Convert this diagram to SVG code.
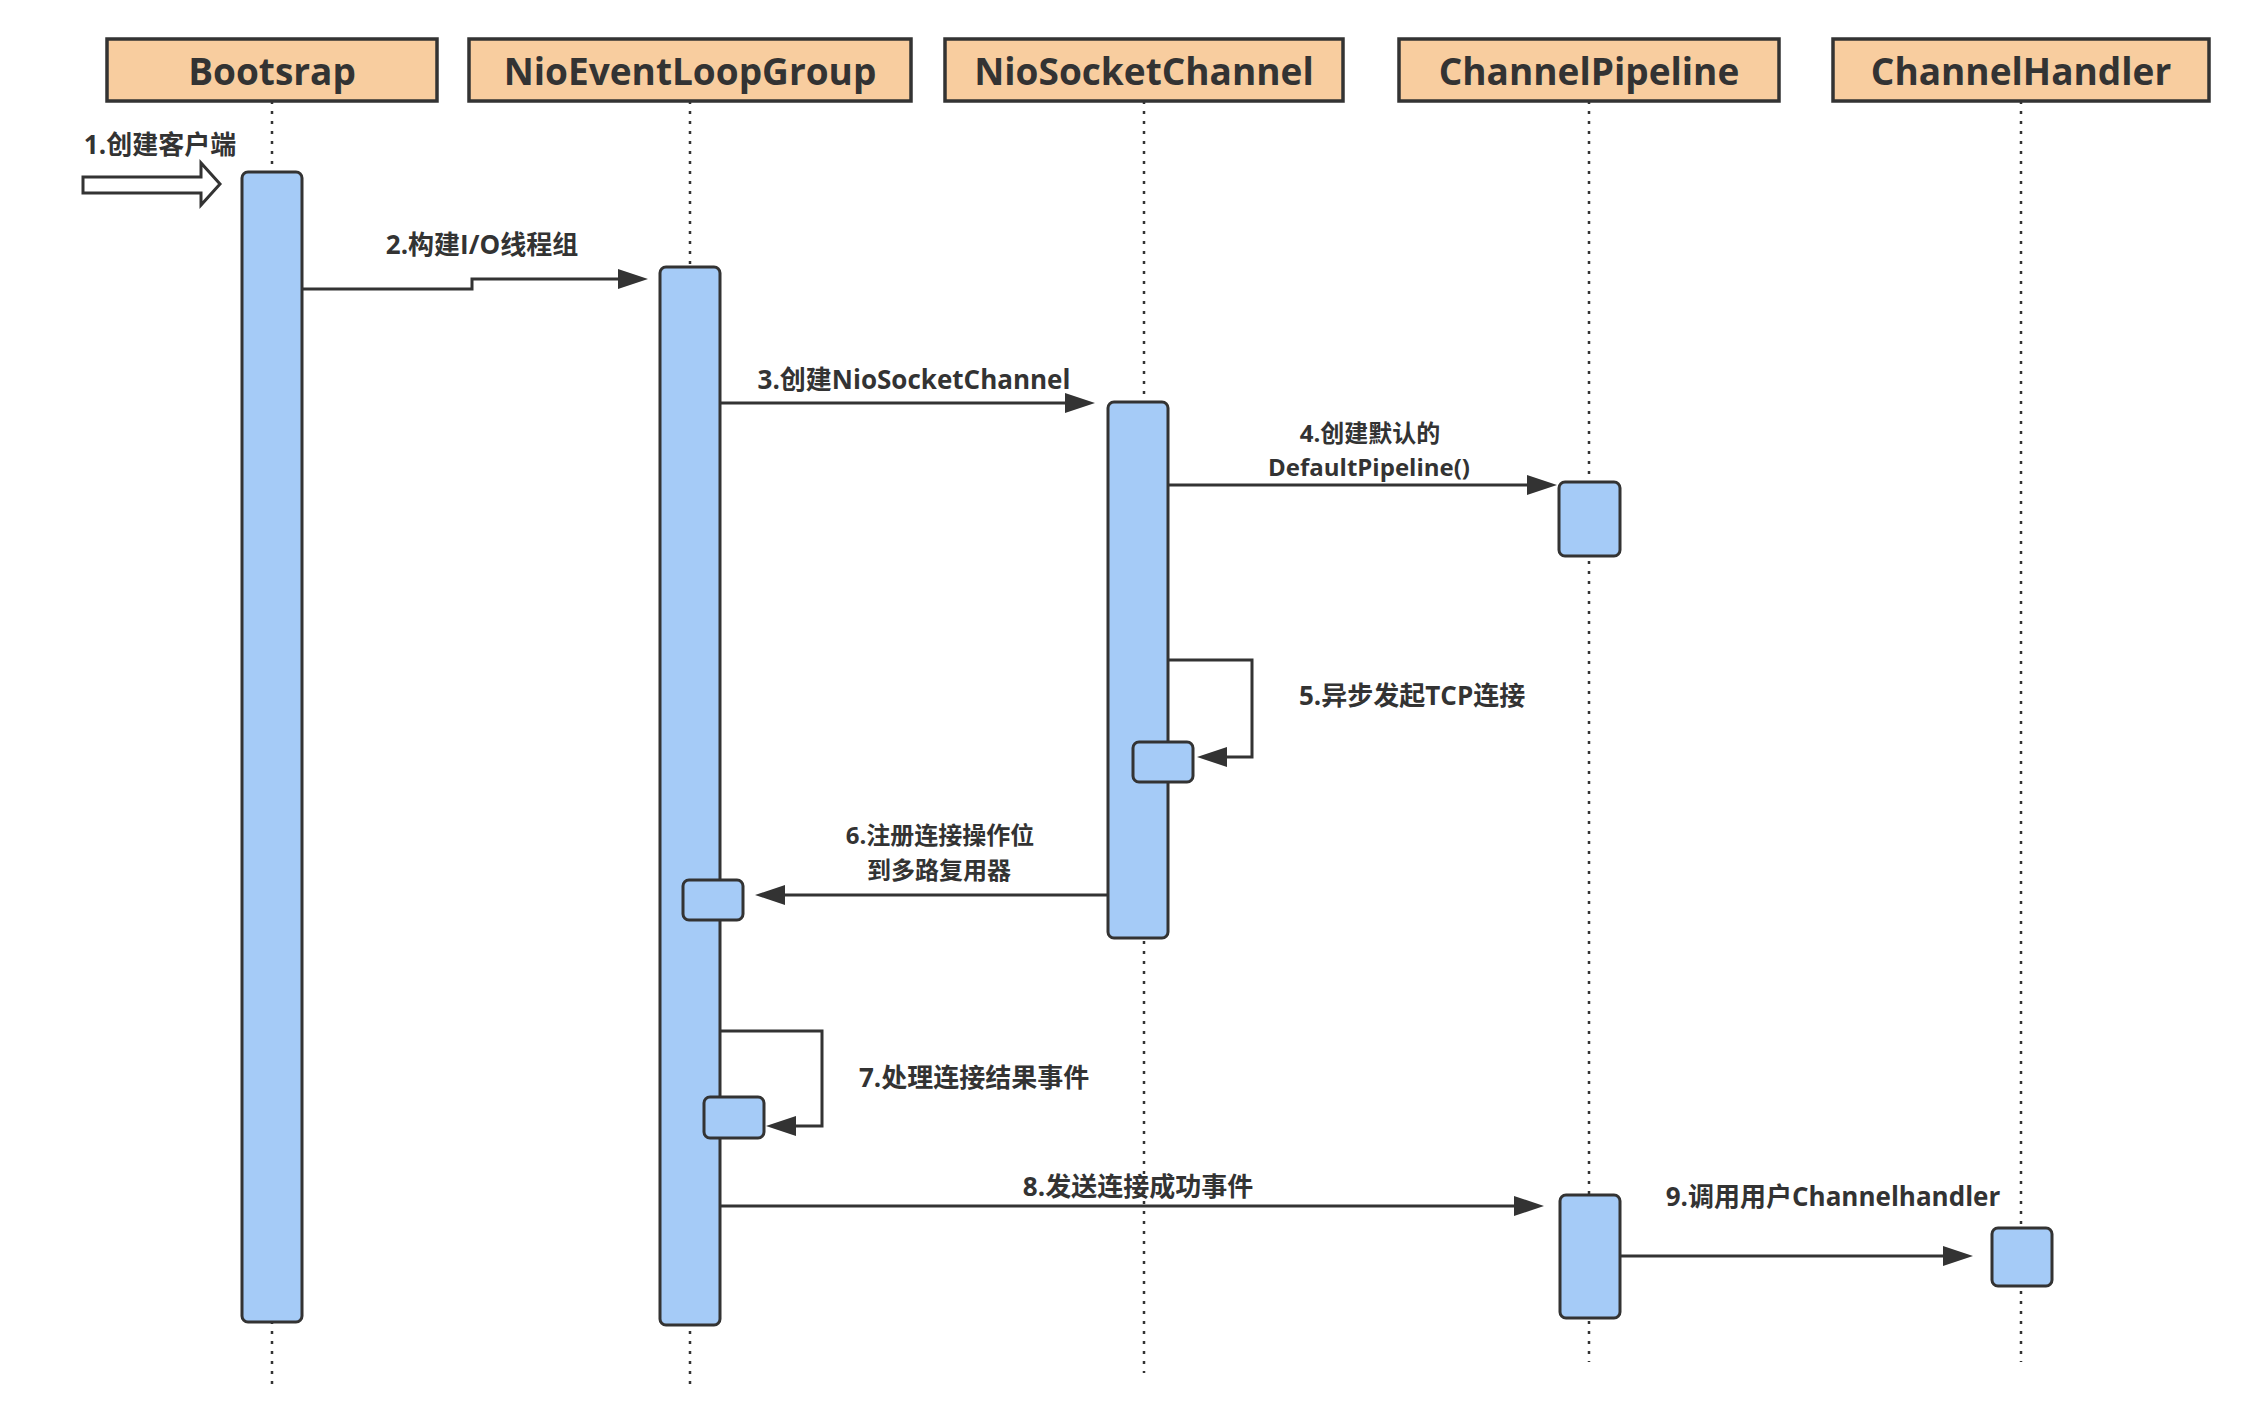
<svg xmlns="http://www.w3.org/2000/svg" width="2254" height="1410" viewBox="0 0 2254 1410">
<defs>
<style>
.head{fill:#F8CD9F;stroke:#333;stroke-width:3.5}
.htxt{font-family:"Open Sans","Noto Sans CJK SC",sans-serif;font-weight:bold;font-size:37px;fill:#333;text-anchor:middle}
.life{stroke:#333;stroke-width:2.5;stroke-dasharray:3 7;fill:none}
.bar{fill:#A5CBF7;stroke:#333;stroke-width:3}
.msg{fill:none;stroke:#333;stroke-width:3;marker-end:url(#ah)}
.lbl{font-family:"Open Sans","Noto Sans CJK SC",sans-serif;font-weight:bold;font-size:26px;fill:#333}
.two{font-size:24px}
.mid{text-anchor:middle}
</style>
<marker id="ah" markerUnits="userSpaceOnUse" markerWidth="30" markerHeight="20" refX="15" refY="10" orient="auto">
<path d="M0,0 L30,10 L0,20 z" fill="#333"/>
</marker>
</defs>
<rect width="2254" height="1410" fill="#fff"/>

<g id="connectors">
<polygon points="83,177 201,177 201,163 220,184 201,205 201,193 83,193" fill="#fff" stroke="#333" stroke-width="3"/>
<polyline class="msg" points="302,289 472,289 472,279 633,279"/>
<line class="msg" x1="720" y1="403" x2="1080" y2="403"/>
<line class="msg" x1="1168" y1="485" x2="1542" y2="485"/>
<polyline class="msg" points="1168,660 1252,660 1252,757 1212,757"/>
<line class="msg" x1="1108" y1="895" x2="770" y2="895"/>
<polyline class="msg" points="720,1031 822,1031 822,1126 781,1126"/>
<line class="msg" x1="720" y1="1206" x2="1529" y2="1206"/>
<line class="msg" x1="1620" y1="1256" x2="1958" y2="1256"/>
<text class="lbl mid" x="160" y="154">1.创建客户端</text>
<text class="lbl mid" x="482" y="254">2.构建I/O线程组</text>
<text class="lbl mid" x="914" y="389">3.创建NioSocketChannel</text>
<text class="lbl two mid" x="1370" y="442">4.创建默认的</text>
<text class="lbl two mid" x="1369" y="476">DefaultPipeline()</text>
<text class="lbl" x="1299" y="705">5.异步发起TCP连接</text>
<text class="lbl two mid" x="940" y="844">6.注册连接操作位</text>
<text class="lbl two mid" x="939" y="879">到多路复用器</text>
<text class="lbl" x="859" y="1087">7.处理连接结果事件</text>
<text class="lbl mid" x="1138" y="1196">8.发送连接成功事件</text>
<text class="lbl mid" x="1833" y="1206">9.调用用户Channelhandler</text>
</g>

<g id="bootsrap">
<rect class="head" x="107" y="39" width="330" height="62"/>
<text class="htxt" x="272" y="85">Bootsrap</text>
<line class="life" x1="272" y1="101" x2="272" y2="1384"/>
<rect class="bar" x="242" y="172" width="60" height="1150" rx="6"/>
</g>

<g id="nioEventLoopGroup">
<rect class="head" x="469" y="39" width="442" height="62"/>
<text class="htxt" x="690" y="85">NioEventLoopGroup</text>
<line class="life" x1="690" y1="101" x2="690" y2="1384"/>
<rect class="bar" x="660" y="267" width="60" height="1058" rx="6"/>
<rect class="bar" x="683" y="880" width="60" height="40" rx="6"/>
<rect class="bar" x="704" y="1097" width="60" height="41" rx="6"/>
</g>

<g id="nioSocketChannel">
<rect class="head" x="945" y="39" width="398" height="62"/>
<text class="htxt" x="1144" y="85">NioSocketChannel</text>
<line class="life" x1="1144" y1="101" x2="1144" y2="1373"/>
<rect class="bar" x="1108" y="402" width="60" height="536" rx="6"/>
<rect class="bar" x="1133" y="742" width="60" height="40" rx="6"/>
</g>

<g id="channelPipeline">
<rect class="head" x="1399" y="39" width="380" height="62"/>
<text class="htxt" x="1589" y="85">ChannelPipeline</text>
<line class="life" x1="1589" y1="101" x2="1589" y2="1362"/>
<rect class="bar" x="1559" y="482" width="61" height="74" rx="6"/>
<rect class="bar" x="1560" y="1195" width="60" height="123" rx="6"/>
</g>

<g id="channelHandler">
<rect class="head" x="1833" y="39" width="376" height="62"/>
<text class="htxt" x="2021" y="85">ChannelHandler</text>
<line class="life" x1="2021" y1="101" x2="2021" y2="1362"/>
<rect class="bar" x="1992" y="1228" width="60" height="58" rx="6"/>
</g>
</svg>
